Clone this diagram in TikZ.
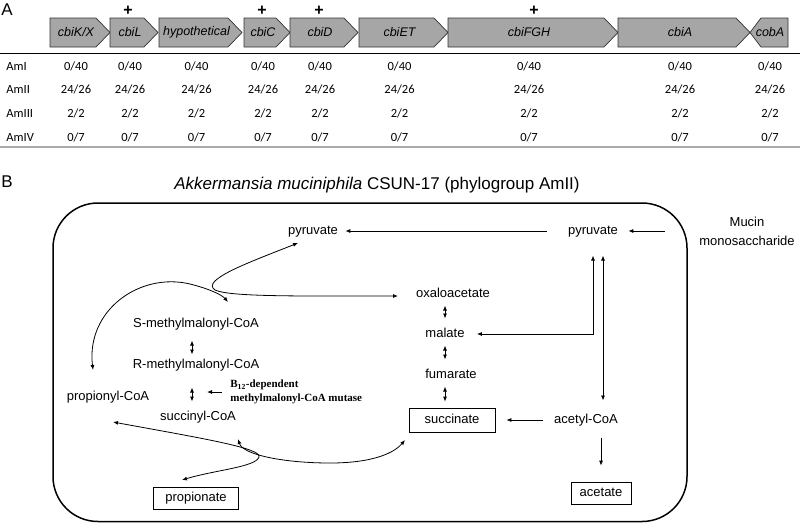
\documentclass[tikz,border=0pt]{standalone}
\usepackage{fontspec}
\setmainfont{Liberation Sans}
\newfontfamily\calibri{Carlito}
\newfontfamily\timesrm{Liberation Serif}
\usetikzlibrary{arrows.meta}

\definecolor{genegray}{RGB}{166,166,166}
\definecolor{rulegray}{RGB}{170,170,170}

\tikzset{
  genebody/.style={draw=black!80, fill=genegray, line width=0.7pt},
  genename/.style={font=\fontsize{12.5}{14}\selectfont\itshape},
  plus/.style={font=\fontsize{16}{16}\selectfont\bfseries, inner sep=0pt, text height=10pt, text depth=0pt, anchor=base},
  cell/.style={font=\calibri\fontsize{12.5}{14}\selectfont},
  met/.style={font=\fontsize{13}{15}\selectfont, inner sep=3pt, text height=9.5pt, text depth=2.7pt},
  prod/.style={met, draw, line width=0.8pt, minimum height=22pt},
  dbl/.style={<->, shorten <=2pt, shorten >=6pt},
}

% gene arrow: name, left, right (tip), label
\newcommand{\gene}[4]{%
  \draw[genebody] (#2,18) -- (#3-14,18) -- (#3,32.5) -- (#3-14,47) -- (#2,47) -- cycle;
  \node[genename] (#1) at ({(#2+#3)/2-4},32.5) {#4};}

\begin{document}
\begin{tikzpicture}[x=1pt, y=-1pt, >={Latex[length=5pt,width=4pt]}, line width=0.8pt]
\useasboundingbox (0,0) rectangle (800,523);

% panel A
\node[font=\fontsize{17}{17}\selectfont, inner sep=1pt] (A) at (7,10) {A};
\gene{kx}{50}{110}{cbiK/X}
\gene{l}{110}{158}{cbiL}
\gene{hyp}{159}{242}{hypothetical}
\gene{c}{244}{290}{cbiC}
\gene{d}{290}{358}{cbiD}
\gene{et}{359}{448}{cbiET}
\gene{fgh}{448}{618}{cbiFGH}
\gene{a}{618}{750}{cbiA}
\draw[genebody] (788,18) -- (761,18) -- (750,32.5) -- (761,47) -- (788,47) -- cycle;
\node[genename] (coba) at (770,32.5) {cobA};
\foreach \x in {128,262,319,534}
  \node[plus] (plus-\x) at (\x,15) {+};

\draw (0,53) -- (800,53);
\draw[rulegray, line width=2pt] (0,147) -- (800,147);
\foreach \r/\y/\v in {AmI/66/{0/40}, AmII/89/{24/26}, AmIII/113/{2/2}, AmIV/137/{0/7}} {
  \node[cell, anchor=west, inner sep=2pt] (\r) at (4,\y) {\r};
  \foreach \g in {kx,l,hyp,c,d,et,fgh,a,coba}
    \node[cell] (\r-\g) at (\g |- \r) {\v};
}

% panel B
\node[font=\fontsize{17}{17}\selectfont] (B) at (7,182) {B};
\node[font=\fontsize{17}{20}\selectfont] (title) at (377,185) {\textit{Akkermansia muciniphila} CSUN-17 (phylogroup AmII)};
\draw[rounded corners=45pt, line width=1.5pt] (53,203) rectangle (687,521.5);

\node[met] (pyrL) at (313,231) {pyruvate};
\node[met] (pyrR) at (593,231) {pyruvate};
\node[font=\fontsize{13}{19}\selectfont, align=center, inner sep=3pt] (mucin) at (747,231) {Mucin\\monosaccharide};
\node[met] (oaa) at (453,294) {oxaloacetate};
\node[met] (mal) at (445,334) {malate};
\node[met] (fum) at (451,375) {fumarate};
\node[prod, minimum width=86pt, minimum height=24pt] (succ) at (452,420) {succinate};
\node[met] (acoa) at (586,420) {acetyl-CoA};
\node[prod, minimum width=60pt] (acet) at (601,493) {acetate};
\node[met] (smm) at (196,324) {S-methylmalonyl-CoA};
\node[met] (rmm) at (196,365) {R-methylmalonyl-CoA};
\node[met] (pcoa) at (108,397) {propionyl-CoA};
\node[met] (scoa) at (198,417) {succinyl-CoA};
\node[prod, minimum width=85pt] (prop) at (196,498) {propionate};
\node[font=\timesrm\bfseries\fontsize{11}{14}\selectfont, align=left, anchor=west, inner sep=3pt] (mutase) at (227,392) {B\textsubscript{12}-dependent\\methylmalonyl-CoA mutase};

\coordinate (mtip) at (207,392);
\coordinate (t-pcoa1) at (93,370);
\coordinate (t-smm) at (228,302);
\coordinate (t-pyr) at (298,243);
\coordinate (t-oaa) at (398,296);
\coordinate (t-pcoa2) at (113,422);
\coordinate (t-prop) at (182,480);
\coordinate (t-scoa) at (238,439);
\coordinate (t-succ) at (405,440);

\draw[->, shorten <=31pt, shorten >=7pt] (mucin) -- (pyrR);
\draw[->, shorten <=18pt, shorten >=4pt] (pyrR) -- (pyrL);
\draw[<->, shorten <=9pt, shorten >=15pt] (mal) -| (pyrR);
\draw[<->, shorten <=15pt, shorten >=10pt] ([xshift=10pt]pyrR.south) -- ([xshift=17pt]acoa.north);
\draw[->, shorten <=8pt, shorten >=11pt] (acoa) -- (succ);
\draw[->, shorten <=8pt, shorten >=16pt] (acet.north |- acoa.south) -- (acet.north);
\draw[dbl] (mal.north |- oaa.south) -- (mal.north);
\draw[dbl] (mal.south) -- (mal.south |- fum.north);
\draw[dbl] (mal.south |- fum.south) -- (mal.south |- succ.north);
\draw[<->, shorten <=7pt, shorten >=1pt] ([xshift=-4pt]smm.south) -- ([xshift=-4pt]rmm.north);
\draw[<->, shorten <=13pt, shorten >=6pt] ([xshift=-4pt]rmm.south) -- ([xshift=-6pt]scoa.north);
\draw[->, shorten <=5pt] (mutase.west) -- (mtip);

\draw[<->] (t-pcoa1) .. controls (86,310) and (140,272) .. (190,284)
  .. controls (210,289) and (222,295) .. (t-smm);
\draw[<->] (t-pyr) .. controls (250,262) and (200,280) .. (215,290)
  .. controls (230,297) and (300,296) .. (t-oaa);
\draw[<->] (t-pcoa2) .. controls (200,438) and (262,448) .. (259,457)
  .. controls (256,467) and (215,470) .. (t-prop);
\draw[<->] (t-scoa) .. controls (243,455) and (285,463) .. (330,463)
  .. controls (375,463) and (395,452) .. (t-succ);
\end{tikzpicture}
\end{document}
